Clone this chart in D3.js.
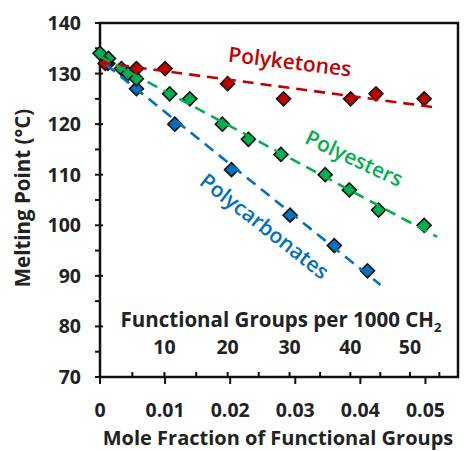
<!DOCTYPE html>
<html lang="en">
  <head>
    <meta charset="UTF-8" />
    <title>Melting Point vs Mole Fraction of Functional Groups</title>
    <script src="https://d3js.org/d3.v7.min.js"></script>
    <style>
      body { margin: 0; background: #fff; }
      text { font-family: "Open Sans", sans-serif; }
      .tick-label { font-size: 19.5px; font-weight: bold; fill: #222; }
      .axis-title { font-size: 20.5px; font-weight: bold; fill: #222; }
      .series-label { font-size: 21px; font-weight: 600; }
    </style>
  </head>
  <body>
    <svg id="chart" width="464" height="451"></svg>

    <script>
      // Data (x = mole fraction, y = melting point in °C)
      const ketoneX = [0.0008, 0.0056, 0.0100, 0.0196, 0.0282, 0.0385, 0.0424, 0.0498];
      const ketoneY = [132, 131, 131, 128, 125, 125, 126, 125];
      const esterX = [0.0000, 0.0013, 0.0033, 0.0043, 0.0056, 0.0107, 0.0138, 0.0188, 0.0228, 0.0278, 0.0346, 0.0383, 0.0428, 0.0498];
      const esterY = [134, 133, 131, 130, 129, 126, 125, 120, 117, 114, 110, 107, 103, 100];
      const carbX = [0.0012, 0.0056, 0.0115, 0.0202, 0.0292, 0.0360, 0.0411];
      const carbY = [132, 127, 120, 111, 102, 96, 91];

      // Trendline ends [x, y]
      const ketoneTrend = [[0, 132.2], [0.051, 123.4]];
      const esterTrend = [[0, 133.4], [0.0518, 97.7]];
      const carbTrend = [[0.001, 131.7], [0.0431, 88.2]];

      const xTicks = [0, 0.01, 0.02, 0.03, 0.04, 0.05];
      const yTicks = [70, 80, 90, 100, 110, 120, 130, 140];
      const yMinorTicks = [75, 85, 95, 105, 115, 125, 135];
      const groupTicks = [5, 10, 15, 20, 25, 30, 35, 40, 45, 50, 55]; // per 1000 CH2
      const groupLabels = [10, 20, 30, 40, 50];

      const svg = d3.select("#chart");
      const plot = { left: 100, right: 458, top: 23, bottom: 377 };

      const x = d3.scaleLinear().domain([0, 0.055]).range([plot.left, plot.right]);
      const y = d3.scaleLinear().domain([70, 140]).range([plot.bottom, plot.top]);
      // functional groups per 1000 CH2 -> mole fraction
      const toFrac = (n) => n / (1000 + n);

      const red = "#C00000", green = "#00B050", blue = "#0070C0";

      // plot frame
      svg.append("rect")
        .attr("x", plot.left).attr("y", plot.top)
        .attr("width", plot.right - plot.left).attr("height", plot.bottom - plot.top)
        .attr("fill", "none").attr("stroke", "#111").attr("stroke-width", 2.5);

      // y ticks
      svg.selectAll(".ymaj").data(yTicks).enter().append("line")
        .attr("x1", plot.left - 5).attr("x2", plot.left + 3)
        .attr("y1", (d) => y(d)).attr("y2", (d) => y(d))
        .attr("stroke", "#111").attr("stroke-width", 2);
      svg.selectAll(".ymin").data(yMinorTicks).enter().append("line")
        .attr("x1", plot.left - 5).attr("x2", plot.left)
        .attr("y1", (d) => y(d)).attr("y2", (d) => y(d))
        .attr("stroke", "#111").attr("stroke-width", 2);
      svg.selectAll(".ylab").data(yTicks).enter().append("text")
        .attr("class", "tick-label")
        .attr("x", 81).attr("y", (d) => y(d) + 7)
        .attr("text-anchor", "end")
        .text((d) => d);

      // x ticks (primary, pointing down)
      svg.selectAll(".xmaj").data(xTicks).enter().append("line")
        .attr("x1", (d) => x(d)).attr("x2", (d) => x(d))
        .attr("y1", plot.bottom).attr("y2", plot.bottom + 7)
        .attr("stroke", "#111").attr("stroke-width", 2);
      // secondary ticks (groups per 1000 CH2, pointing up)
      svg.selectAll(".xsec").data([0].concat(groupTicks)).enter().append("line")
        .attr("x1", (d) => x(toFrac(d))).attr("x2", (d) => x(toFrac(d)))
        .attr("y1", plot.bottom - 5).attr("y2", plot.bottom + 1)
        .attr("stroke", "#111").attr("stroke-width", 2);
      svg.selectAll(".xlab").data(xTicks).enter().append("text")
        .attr("class", "tick-label")
        .attr("x", (d) => x(d)).attr("y", 417)
        .attr("text-anchor", "middle")
        .text((d) => (d === 0 ? "0" : d3.format(".2f")(d)));

      // secondary labels inside plot
      const secTitle = svg.append("text")
        .attr("class", "axis-title")
        .attr("x", 281).attr("y", 327)
        .attr("text-anchor", "middle");
      secTitle.append("tspan").text("Functional Groups per 1000 CH");
      secTitle.append("tspan").attr("dy", 5).style("font-size", "13px").text("2");
      svg.selectAll(".glab").data(groupLabels).enter().append("text")
        .attr("class", "tick-label")
        .attr("x", (d) => x(toFrac(d))).attr("y", 354)
        .attr("text-anchor", "middle")
        .text((d) => d);

      // axis titles
      svg.append("text")
        .attr("class", "axis-title")
        .attr("transform", "translate(30,198) rotate(-90)")
        .attr("text-anchor", "middle")
        .text("Melting Point (°C)");
      svg.append("text")
        .attr("class", "axis-title")
        .style("font-size", "20px")
        .attr("x", 278).attr("y", 445)
        .attr("text-anchor", "middle")
        .text("Mole Fraction of Functional Groups");

      // markers
      const diamond = d3.symbol(d3.symbolSquare, 98);
      function drawMarkers(xs, ys, color) {
        svg.append("g").selectAll("path").data(xs).enter().append("path")
          .attr("d", diamond)
          .attr("transform", (d, i) => `translate(${x(d)},${y(ys[i])}) rotate(45)`)
          .attr("fill", color)
          .attr("stroke", "#111").attr("stroke-width", 1.6);
      }
      drawMarkers(carbX, carbY, blue);
      drawMarkers(esterX, esterY, green);
      drawMarkers(ketoneX, ketoneY, red);

      // dashed trendlines on top
      const line = d3.line().x((d) => x(d[0])).y((d) => y(d[1]));
      [[ketoneTrend, red], [esterTrend, green], [carbTrend, blue]].forEach(([t, c]) => {
        svg.append("path")
          .attr("d", line(t))
          .attr("fill", "none").attr("stroke", c)
          .attr("stroke-width", 2.6).attr("stroke-dasharray", "11,7");
      });

      // series labels
      svg.append("text").attr("class", "series-label").attr("fill", red)
        .attr("transform", "translate(289,69) rotate(7)")
        .attr("text-anchor", "middle").text("Polyketones");
      svg.append("text").attr("class", "series-label").attr("fill", green)
        .attr("transform", "translate(351,165) rotate(25)")
        .attr("text-anchor", "middle").text("Polyesters");
      svg.append("text").attr("class", "series-label").attr("fill", blue)
        .attr("transform", "translate(260,232) rotate(38)")
        .attr("text-anchor", "middle").text("Polycarbonates");
    </script>
  </body>
</html>
